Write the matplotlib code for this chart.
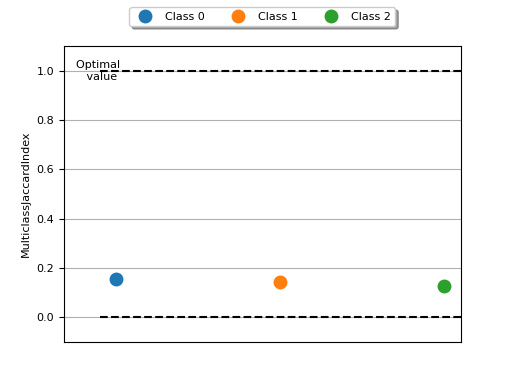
import matplotlib
matplotlib.use("Agg")
import matplotlib.pyplot as plt

classes = ["Class 0", "Class 1", "Class 2"]
values = [0.154, 0.142, 0.126]
colors = ["#1f77b4", "#ff7f0e", "#2ca02c"]
optimal = 1.0
worst = 0.0

fig, ax = plt.subplots(figsize=(5.12, 3.84), dpi=100)
for i, (c, v, col) in enumerate(zip(classes, values, colors)):
    ax.plot(i, v, "o", color=col, markersize=9, label=c)

ax.set_xlim(-0.317, 2.104)
ax.set_ylim(-0.1, 1.1)
ax.hlines(optimal, -0.1, 2.104, linestyles="dashed", colors="k")
ax.hlines(worst, -0.1, 2.104, linestyles="dashed", colors="k")
ax.text(-0.1, optimal, "Optimal \n value", ha="center", va="center", fontsize=8)
ax.set_xticks([])
ax.tick_params(axis="y", labelsize=8)
ax.set_ylabel("MulticlassJaccardIndex", fontsize=8)
ax.grid(True, axis="y")
ax.legend(loc="upper center", bbox_to_anchor=(0.5, 1.15), ncol=3, shadow=True,
          fontsize=8, fancybox=True)
fig.savefig("out.png", dpi=100)
